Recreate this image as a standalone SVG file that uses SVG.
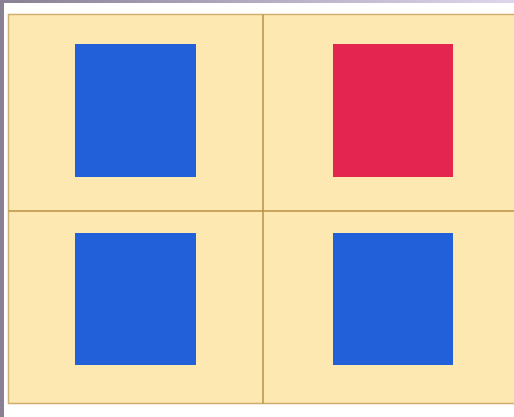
<svg xmlns="http://www.w3.org/2000/svg" width="514" height="417" viewBox="0 0 514 417">
<defs>
<linearGradient id="topg" x1="0" y1="0" x2="1" y2="0">
<stop offset="0" stop-color="#8a8094"/>
<stop offset="1" stop-color="#ddd6ec"/>
</linearGradient>
<style>
.cell{fill:#fee8b2}
.grid{stroke:#b98f42;stroke-width:1.5;fill:none}
.blue{fill:#2160d9}
.red{fill:#e3254f}
</style>
</defs>
<rect width="514" height="417" fill="#ffffff"/>
<rect x="0" y="0" width="514" height="3" fill="url(#topg)"/>
<rect x="0" y="0" width="4" height="417" fill="#8a8094"/>
<g id="panel">
<rect x="8.5" y="14.5" width="510" height="389" class="cell" stroke="#cfae6e" stroke-width="1.5"/>
<line class="grid" x1="263" y1="14.5" x2="263" y2="403.5"/>
<line class="grid" x1="8.5" y1="211" x2="514" y2="211"/>
</g>
<g id="cell-tl"><rect class="blue" x="75" y="44" width="121" height="133"/></g>
<g id="cell-tr"><rect class="red" x="333" y="44" width="120" height="133"/></g>
<g id="cell-bl"><rect class="blue" x="75" y="233" width="121" height="132"/></g>
<g id="cell-br"><rect class="blue" x="333" y="233" width="120" height="132"/></g>
</svg>
